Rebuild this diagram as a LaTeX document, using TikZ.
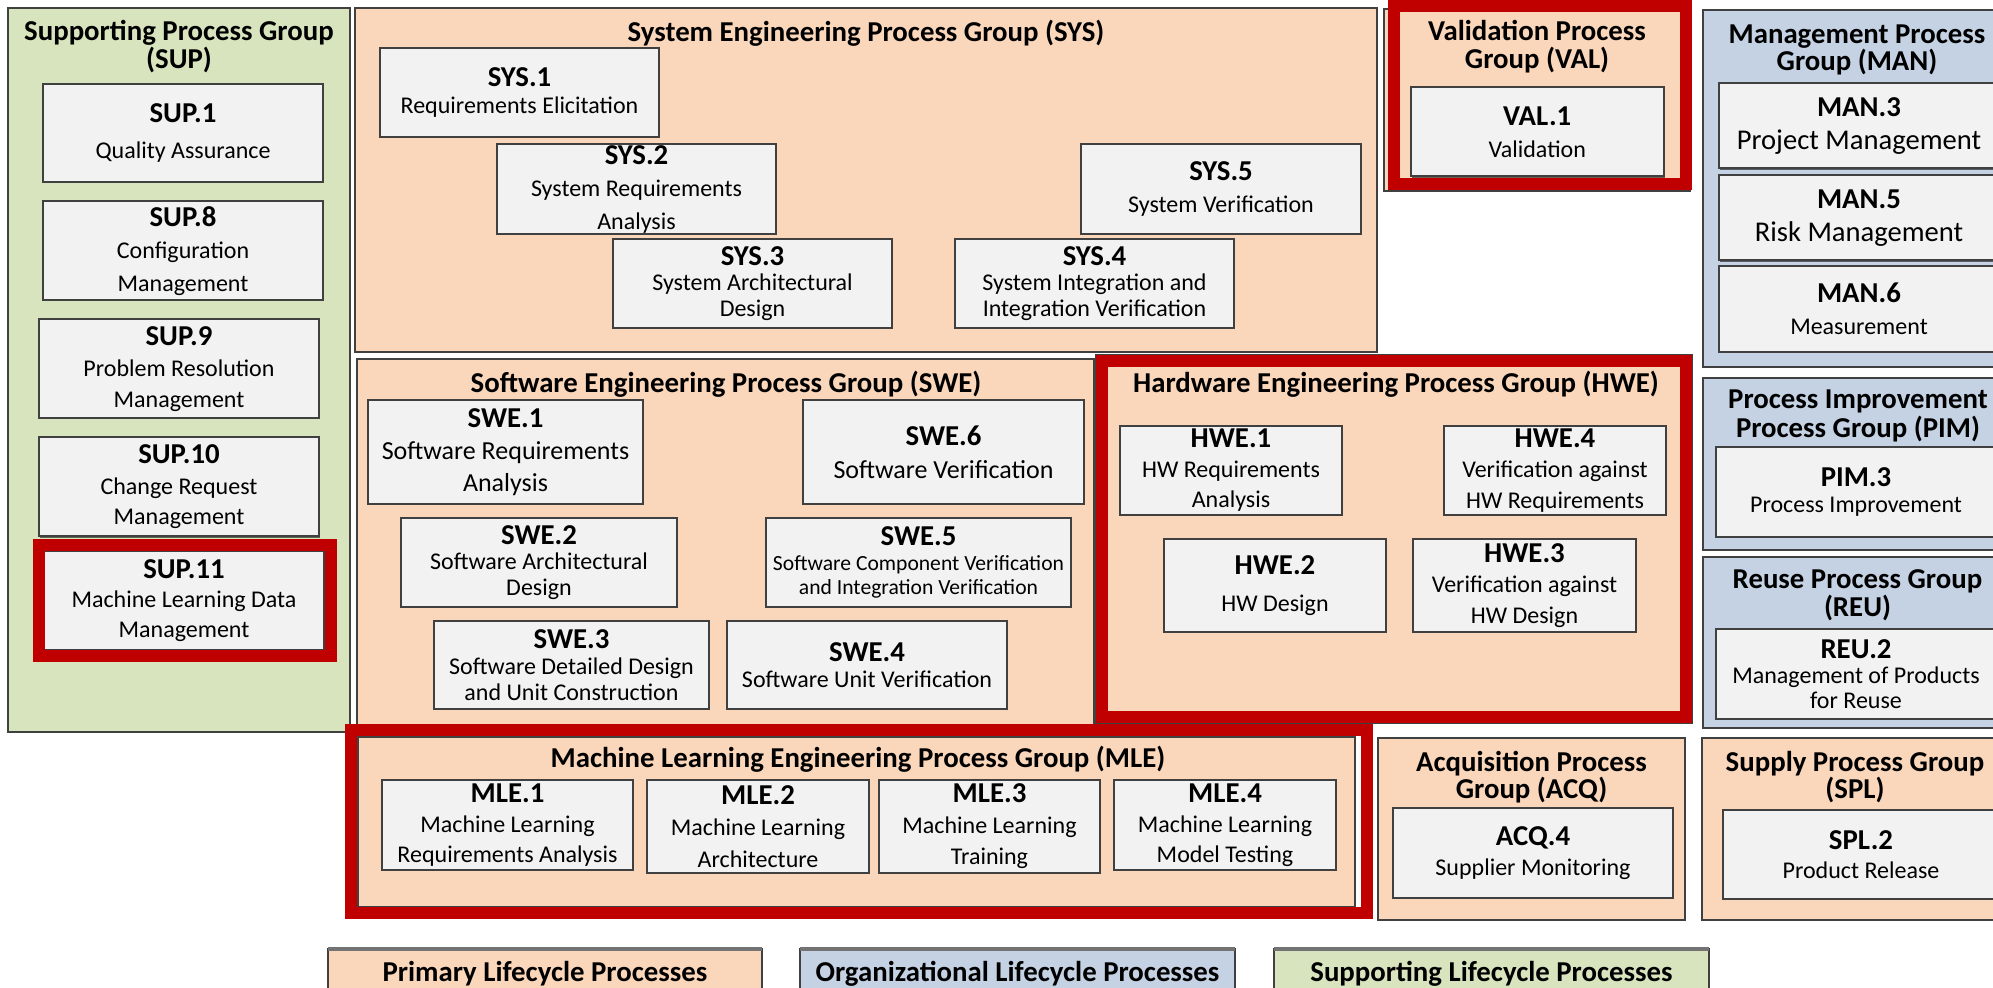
\documentclass[tikz,border=0pt]{standalone}
\usepackage{fontspec}
\setmainfont{Carlito}
\usetikzlibrary{shadows}
\definecolor{peach}{HTML}{FAD6BA}
\definecolor{bluegray}{HTML}{C4D2E4}
\definecolor{sgreen}{HTML}{D7E4BE}
\definecolor{boxfill}{HTML}{F2F2F2}
\definecolor{edge}{HTML}{404040}
\definecolor{hired}{HTML}{C00000}
\newcommand\pid[1]{{\fontsize{14.4}{15}\selectfont\bfseries #1}}
\newcommand\dsc[2]{{\fontsize{#1}{15}\selectfont #2}}
\newcommand\mybox[7]{\node[#6, minimum width={(#4-#2)*0.5pt}, minimum height={(#5-#3)*0.5pt}] (#1) at ({(#2+#4)/2},{(#3+#5)/2}) {#7};}
\begin{document}
\lineskiplimit=-20pt
\begin{tikzpicture}[x=0.5pt,y=-0.5pt,
  grp/.style={draw=edge, line width=1pt, inner sep=0pt, outer sep=0pt,
    drop shadow={shadow xshift=0.7pt,shadow yshift=-0.7pt,opacity=0.45,fill=black}},
  prim/.style={grp, fill=peach},
  org/.style={grp, fill=bluegray},
  supp/.style={grp, fill=sgreen},
  pbox/.style={draw=edge, line width=1pt, fill=boxfill, inner sep=0pt, outer sep=0pt,
    align=center, font={\fontsize{12}{#1}\selectfont},
    drop shadow={shadow xshift=0.6pt,shadow yshift=-0.6pt,opacity=0.55,fill=black}},
  pbox/.default=15,
  gtitle/.style={font={\fontsize{14.4}{#1}\selectfont\bfseries}, align=center, inner sep=0pt},
  gtitle/.default=14,
  hilite/.style={draw=hired, line width=6pt},
  legbox/.style={grp, font={\fontsize{14.4}{15}\selectfont\bfseries}},
  legtop/.style={draw=black!55, line width=1.6pt}
]
\path[use as bounding box] (0,0) rectangle (1993,988);
\clip (0,0) rectangle (1993,988);
\fill[white] (0,0) rectangle (1993,988);

% ---------- groups ----------
\mybox{supG}{8}{8.5}{350}{732}{supp}{}
\mybox{sysG}{355}{8}{1376.5}{352}{prim}{}
\mybox{valG}{1384}{9}{1690}{191}{prim}{}
\mybox{manG}{1703}{10}{2015}{367}{org}{}
\mybox{pimG}{1703}{378.5}{2015}{550}{org}{}
\mybox{reuG}{1703}{557}{2015}{728}{org}{}
\mybox{sweG}{357}{359}{1094}{727}{prim}{}
\mybox{hweG}{1096}{355}{1692}{723}{prim}{}
\mybox{mleG}{358}{737}{1355}{907}{prim}{}
\mybox{acqG}{1378}{738}{1685}{920}{prim}{}
\mybox{splG}{1702}{738}{2015}{920}{prim}{}

% ---------- group titles ----------
\node[gtitle] (supT) at (179,47) {Supporting Process Group\\(SUP)};
\node[gtitle] (sysT) at (866,33) {System Engineering Process Group (SYS)};
\node[gtitle] (valT) at (1537,47) {Validation Process\\Group (VAL)};
\node[gtitle=13.5] (manT) at (1857,49.5) {Management Process\\Group (MAN)};
\node[gtitle=14.75] (pimT) at (1858,416) {Process Improvement\\Process Group (PIM)};
\node[gtitle=14.25] (reuT) at (1857.5,595) {Reuse Process Group\\(REU)};
\node[gtitle] (sweT) at (726,384) {Software Engineering Process Group (SWE)};
\node[gtitle] (hweT) at (1396,384) {Hardware Engineering Process Group (HWE)};
\node[gtitle] (mleT) at (858,759) {Machine Learning Engineering Process Group (MLE)};
\node[gtitle=13.5] (acqT) at (1531.5,777.5) {Acquisition Process\\Group (ACQ)};
\node[gtitle=13.5] (splT) at (1855,777.5) {Supply Process Group\\(SPL)};

% ---------- SUP ----------
\mybox{sup1}{43}{84}{323}{182}{pbox=18}{\pid{SUP.1}\\Quality Assurance}
\mybox{sup8}{43}{201.5}{323}{300}{pbox=16.25}{\pid{SUP.8}\\Configuration\\Management}
\mybox{sup9}{39}{319.5}{319}{418}{pbox=15.5}{\pid{SUP.9}\\Problem Resolution\\Management}
\mybox{sup10}{39}{437.5}{319}{536.5}{pbox=15.25}{\pid{SUP.10}\\Change Request\\Management}
\mybox{sup11}{44}{551}{324}{650}{pbox=14.75}{\pid{SUP.11}\\Machine Learning Data\\Management}

% ---------- SYS ----------
\mybox{sys1}{380}{48}{659}{137}{pbox=13.5}{\pid{SYS.1}\\Requirements Elicitation}
\mybox{sys2}{497}{144}{776}{234}{pbox=16.25}{\pid{SYS.2}\\System Requirements\\Analysis}
\mybox{sys3}{613}{239}{892}{328}{pbox=12.75}{\pid{SYS.3}\\System Architectural\\Design}
\mybox{sys4}{955}{239}{1234}{328}{pbox=12.75}{\pid{SYS.4}\\System Integration and\\Integration Verification}
\mybox{sys5}{1081}{144}{1361}{234}{pbox=16}{\pid{SYS.5}\\System Verification}

% ---------- VAL ----------
\mybox{val1}{1410.5}{87}{1664}{176.5}{pbox=16}{\pid{VAL.1}\\Validation}

% ---------- MAN ----------
\mybox{man3}{1719}{83.5}{1999}{168.5}{pbox=16.75}{\pid{MAN.3}\\\dsc{14.3}{Project Management}}
\mybox{man5}{1719}{175.5}{1999}{260.5}{pbox=16.5}{\pid{MAN.5}\\\dsc{14.3}{Risk Management}}
\mybox{man6}{1719}{266}{1999}{351.6}{pbox=16}{\pid{MAN.6}\\Measurement}

% ---------- SWE ----------
\mybox{swe1}{368}{400}{643}{504}{pbox=16}{\pid{SWE.1}\\\dsc{13}{Software Requirements}\\\dsc{13}{Analysis}}
\mybox{swe6}{803}{400}{1084}{504}{pbox=16.5}{\pid{SWE.6}\\\dsc{13}{Software Verification}}
\mybox{swe2}{401}{518}{677}{607}{pbox=12.75}{\pid{SWE.2}\\Software Architectural\\Design}
\mybox{swe5}{766}{518}{1071}{607}{pbox=12.25}{\pid{SWE.5}\\\dsc{10.8}{Software Component Verification}\\\dsc{10.8}{and Integration Verification}}
\mybox{swe3}{434}{621}{709}{709}{pbox=13}{\pid{SWE.3}\\Software Detailed Design\\and Unit Construction}
\mybox{swe4}{727}{621}{1007}{709}{pbox=13}{\pid{SWE.4}\\Software Unit Verification}

% ---------- HWE ----------
\mybox{hwe1}{1120}{426}{1342}{515}{pbox=15}{\pid{HWE.1}\\HW Requirements\\Analysis}
\mybox{hwe4}{1444}{426}{1666}{515}{pbox=15.25}{\pid{HWE.4}\\Verification against\\HW Requirements}
\mybox{hwe2}{1164}{539}{1386}{632}{pbox=18.5}{\pid{HWE.2}\\HW Design}
\mybox{hwe3}{1413}{539}{1636}{632}{pbox=15.25}{\pid{HWE.3}\\Verification against\\HW Design}

% ---------- PIM / REU ----------
\mybox{pim3}{1716}{447}{1996}{536.6}{pbox=13}{\pid{PIM.3}\\Process Improvement}
\mybox{reu2}{1716}{629}{1996}{719}{pbox=12.4}{\pid{REU.2}\\Management of Products\\for Reuse}

% ---------- MLE ----------
\mybox{mle1}{382}{780}{633}{870}{pbox=15}{\pid{MLE.1}\\Machine Learning\\Requirements Analysis}
\mybox{mle2}{647}{780}{869}{873}{pbox=15.75}{\pid{MLE.2}\\Machine Learning\\Architecture}
\mybox{mle3}{879}{780}{1100}{873}{pbox=15.5}{\pid{MLE.3}\\Machine Learning\\Training}
\mybox{mle4}{1114}{780}{1336}{870}{pbox=15}{\pid{MLE.4}\\Machine Learning\\Model Testing}

% ---------- ACQ / SPL ----------
\mybox{acq4}{1393}{808}{1673}{898}{pbox=15}{\pid{ACQ.4}\\Supplier Monitoring}
\mybox{spl2}{1723}{810}{1999}{899}{pbox=14.5}{\pid{SPL.2}\\Product Release}

% ---------- highlight frames ----------
\draw[hilite] (38.5,545) rectangle (330.5,656.5);
\draw[hilite] (1394,6) rectangle (1686,184);
\draw[hilite] (1102,361) rectangle (1686,717.5);
\draw[hilite] (351,730.5) rectangle (1367,913);

% ---------- legend ----------
\mybox{leg1}{328}{949}{762}{998}{legbox, fill=peach}{Primary Lifecycle Processes}
\mybox{leg2}{800}{949}{1235}{998}{legbox, fill=bluegray}{Organizational Lifecycle Processes}
\mybox{leg3}{1274}{949}{1709}{998}{legbox, fill=sgreen}{Supporting Lifecycle Processes}
\draw[legtop] (leg1.north west) -- (leg1.north east);
\draw[legtop] (leg2.north west) -- (leg2.north east);
\draw[legtop] (leg3.north west) -- (leg3.north east);
\end{tikzpicture}
\end{document}
